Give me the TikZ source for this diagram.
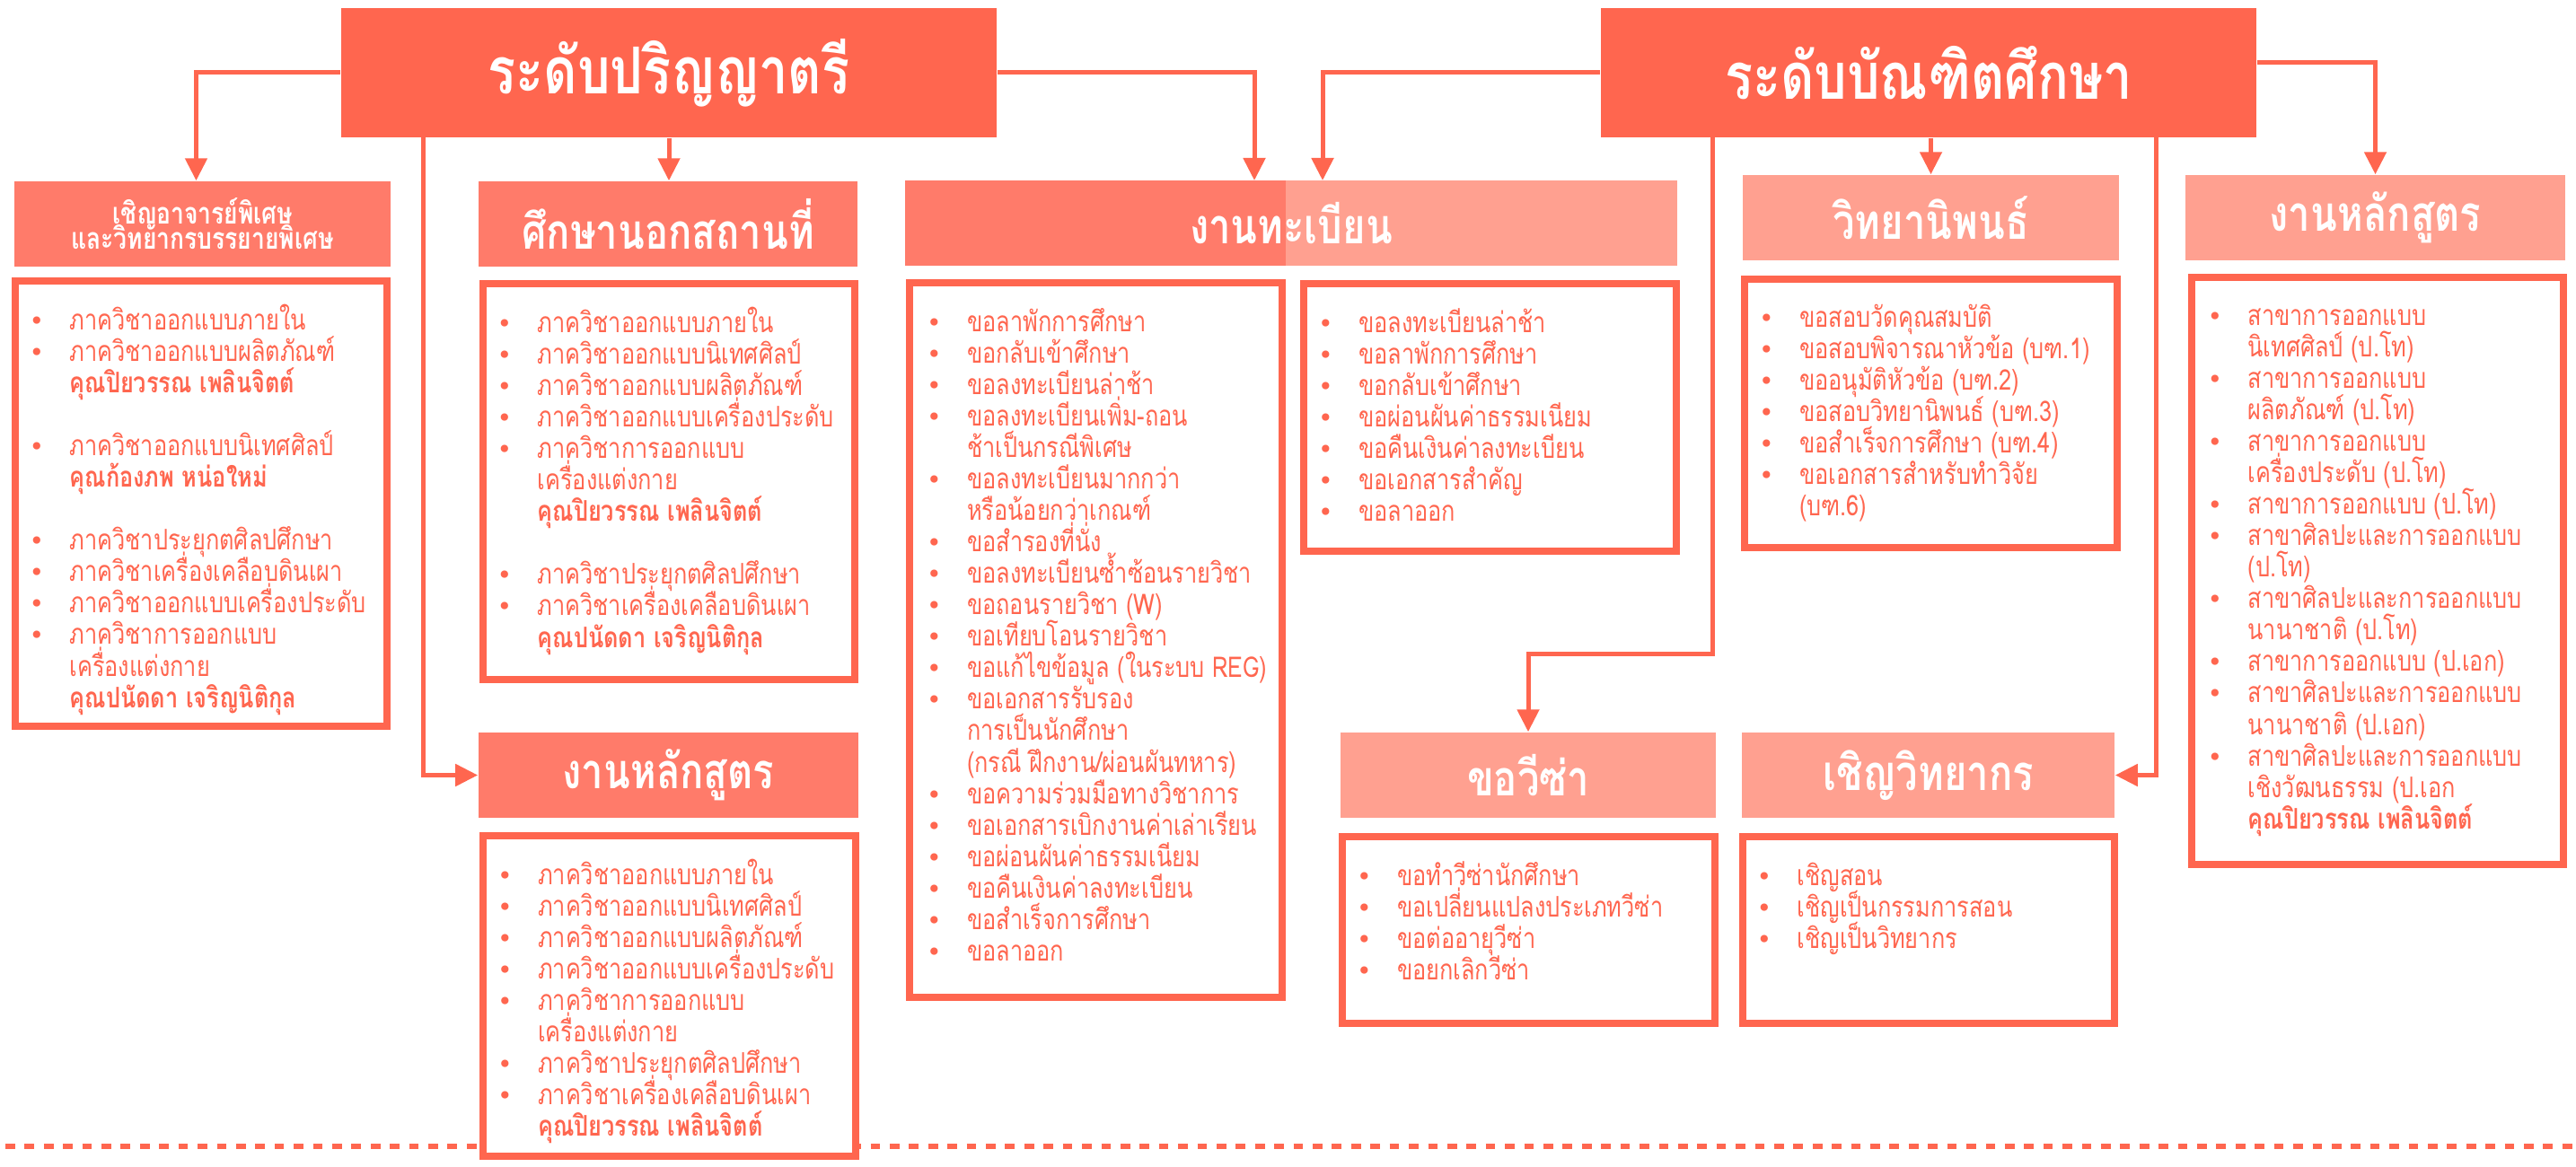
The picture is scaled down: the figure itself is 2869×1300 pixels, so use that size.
\documentclass[tikz,border=0pt]{standalone}
\usepackage{fontspec}
\setmainfont{Loma}[Script=Thai, FakeStretch=0.8]
\newfontfamily\dotfont{DejaVu Sans}
\usetikzlibrary{arrows.meta, calc}
\definecolor{titlecolor}{RGB}{255,102,79}
\definecolor{ugcolor}{RGB}{255,123,106}
\definecolor{grcolor}{RGB}{255,160,144}
\definecolor{linecolor}{RGB}{255,102,79}
\definecolor{textcolor}{RGB}{255,102,79}

\newcommand{\bodyfont}{\fontsize{9}{9.96}\selectfont\lineskiplimit=-20pt\relax}
\newcommand{\smallhead}{\fontsize{9.4}{8}\selectfont\bfseries\lineskiplimit=-20pt\relax}
\newcommand{\itm}{\rule{0pt}{10pt}\makebox[4.5mm][l]{{\dotfont\fontsize{8}{8}\selectfont •}}}
\newcommand{\cont}{\rule{0pt}{10pt}\hspace*{4.5mm}}
\newcommand{\gap}{\rule{0pt}{10pt}}

\begin{document}
\begin{tikzpicture}[
    x=0.01cm, y=-0.01cm,
    level/.style={fill=titlecolor, minimum width=7.3cm, minimum height=1.44cm, inner sep=0pt, text=white, font=\fontsize{20.5}{24}\selectfont\bfseries},
    ughead/.style={fill=ugcolor, minimum width=4.19cm, minimum height=0.95cm, inner sep=0pt, text=white, font=\fontsize{15.5}{17}\selectfont\bfseries},
    grhead/.style={ughead, fill=grcolor},
    panel/.style={draw=linecolor, line width=0.8mm, fill=white, minimum width=4.14cm, inner sep=0pt},
    items/.style={anchor=north west, inner sep=0pt, align=left, text=textcolor, font=\bodyfont},
    link/.style={draw=linecolor, line width=0.5mm, -{Triangle[length=2.5mm, width=2.4mm]}}
]
    \useasboundingbox (0,0) rectangle (2869,1300);

    % dashed rule at the bottom
    \draw[linecolor, line width=0.55mm, dash pattern=on 1.07mm off 1.07mm, dash phase=1.54mm] (0,1277) -- (2869,1277);

    % levels
    \node[level] (tUg) at (745,81) {ระดับปริญญาตรี};
    \node[level] (tGr) at (2148,81) {ระดับบัณฑิตศึกษา};

    % headers
    \node[ughead, font=\smallhead, align=center] (hInvUg) at (225.5,249.5) {เชิญอาจารย์พิเศษ\\และวิทยากรบรรยายพิเศษ};
    \node[ughead, minimum width=4.22cm] (hFieldUg) at (744,249.5) {ศึกษานอกสถานที่};
    \node[grhead, minimum width=8.6cm, path picture={\fill[ugcolor] (path picture bounding box.south west) rectangle ([xshift=4.24cm]path picture bounding box.north west);}] (hReg) at (1438,248.5) {งานทะเบียน};
    \node[grhead] (hThesis) at (2150.5,242.5) {วิทยานิพนธ์};
    \node[grhead, minimum width=4.23cm] (hCurGr) at (2645.5,242.5) {งานหลักสูตร};
    \node[ughead, minimum width=4.23cm] (hCurUg) at (744.5,863.5) {งานหลักสูตร};
    \node[grhead, minimum width=4.18cm] (hVisa) at (1702,863.5) {ขอวีซ่า};
    \node[grhead, minimum width=4.15cm] (hInvite) at (2147.5,863.5) {เชิญวิทยากร};

    % panels
    \node[panel, minimum height=4.96cm] (bInvUg) at (224,561) {};
    \node[panel, minimum height=4.41cm] (bFieldUg) at (745,536.5) {};
    \node[panel, minimum height=3.57cm] (bCurUg) at (745.5,1109.5) {};
    \node[panel, minimum height=7.96cm] (bRegUg) at (1220.5,713) {};
    \node[panel, minimum height=2.98cm] (bRegGr) at (1659.5,465) {};
    \node[panel, minimum height=2.99cm] (bThesis) at (2150.5,460.5) {};
    \node[panel, minimum height=6.54cm] (bCurGr) at (2648,636) {};
    \node[panel, minimum height=2.08cm] (bVisa) at (1702.5,1036) {};
    \node[panel, minimum height=2.08cm] (bInvite) at (2148,1036) {};

    % panel texts
    \node[items] (lInvUg) at ($(bInvUg.north west)+(19,23)$) {%
        \itm ภาควิชาออกแบบภายใน\\
        \itm ภาควิชาออกแบบผลิตภัณฑ์\\
        \cont\textbf{คุณปิยวรรณ เพลินจิตต์}\\
        \gap\\
        \itm ภาควิชาออกแบบนิเทศศิลป์\\
        \cont\textbf{คุณก้องภพ หน่อใหม่}\\
        \gap\\
        \itm ภาควิชาประยุกตศิลปศึกษา\\
        \itm ภาควิชาเครื่องเคลือบดินเผา\\
        \itm ภาควิชาออกแบบเครื่องประดับ\\
        \itm ภาควิชาการออกแบบ\\
        \cont เครื่องแต่งกาย\\
        \cont\textbf{คุณปนัดดา เจริญนิติกุล}};
    \node[items] (lFieldUg) at ($(bFieldUg.north west)+(19,23)$) {%
        \itm ภาควิชาออกแบบภายใน\\
        \itm ภาควิชาออกแบบนิเทศศิลป์\\
        \itm ภาควิชาออกแบบผลิตภัณฑ์\\
        \itm ภาควิชาออกแบบเครื่องประดับ\\
        \itm ภาควิชาการออกแบบ\\
        \cont เครื่องแต่งกาย\\
        \cont\textbf{คุณปิยวรรณ เพลินจิตต์}\\
        \gap\\
        \itm ภาควิชาประยุกตศิลปศึกษา\\
        \itm ภาควิชาเครื่องเคลือบดินเผา\\
        \cont\textbf{คุณปนัดดา เจริญนิติกุล}};
    \node[items] (lCurUg) at ($(bCurUg.north west)+(19,23)$) {%
        \itm ภาควิชาออกแบบภายใน\\
        \itm ภาควิชาออกแบบนิเทศศิลป์\\
        \itm ภาควิชาออกแบบผลิตภัณฑ์\\
        \itm ภาควิชาออกแบบเครื่องประดับ\\
        \itm ภาควิชาการออกแบบ\\
        \cont เครื่องแต่งกาย\\
        \itm ภาควิชาประยุกตศิลปศึกษา\\
        \itm ภาควิชาเครื่องเคลือบดินเผา\\
        \cont\textbf{คุณปิยวรรณ เพลินจิตต์}};
    \node[items] (lRegUg) at ($(bRegUg.north west)+(22,23)$) {%
        \itm ขอลาพักการศึกษา\\
        \itm ขอกลับเข้าศึกษา\\
        \itm ขอลงทะเบียนล่าช้า\\
        \itm ขอลงทะเบียนเพิ่ม-ถอน\\
        \cont ช้าเป็นกรณีพิเศษ\\
        \itm ขอลงทะเบียนมากกว่า\\
        \cont หรือน้อยกว่าเกณฑ์\\
        \itm ขอสำรองที่นั่ง\\
        \itm ขอลงทะเบียนซ้ำซ้อนรายวิชา\\
        \itm ขอถอนรายวิชา (W)\\
        \itm ขอเทียบโอนรายวิชา\\
        \itm ขอแก้ไขข้อมูล (ในระบบ REG)\\
        \itm ขอเอกสารรับรอง\\
        \cont การเป็นนักศึกษา\\
        \cont (กรณี ฝึกงาน/ผ่อนผันทหาร)\\
        \itm ขอความร่วมมือทางวิชาการ\\
        \itm ขอเอกสารเบิกงานค่าเล่าเรียน\\
        \itm ขอผ่อนผันค่าธรรมเนียม\\
        \itm ขอคืนเงินค่าลงทะเบียน\\
        \itm ขอสำเร็จการศึกษา\\
        \itm ขอลาออก};
    \node[items] (lRegGr) at ($(bRegGr.north west)+(19,23)$) {%
        \itm ขอลงทะเบียนล่าช้า\\
        \itm ขอลาพักการศึกษา\\
        \itm ขอกลับเข้าศึกษา\\
        \itm ขอผ่อนผันค่าธรรมเนียม\\
        \itm ขอคืนเงินค่าลงทะเบียน\\
        \itm ขอเอกสารสำคัญ\\
        \itm ขอลาออก};
    \node[items] (lThesis) at ($(bThesis.north west)+(19,22)$) {%
        \itm ขอสอบวัดคุณสมบัติ\\
        \itm ขอสอบพิจารณาหัวข้อ (บฑ.1)\\
        \itm ขออนุมัติหัวข้อ (บฑ.2)\\
        \itm ขอสอบวิทยานิพนธ์ (บฑ.3)\\
        \itm ขอสำเร็จการศึกษา (บฑ.4)\\
        \itm ขอเอกสารสำหรับทำวิจัย\\
        \cont (บฑ.6)};
    \node[items] (lCurGr) at ($(bCurGr.north west)+(21,22)$) {%
        \itm สาขาการออกแบบ\\
        \cont นิเทศศิลป์ (ป.โท)\\
        \itm สาขาการออกแบบ\\
        \cont ผลิตภัณฑ์ (ป.โท)\\
        \itm สาขาการออกแบบ\\
        \cont เครื่องประดับ (ป.โท)\\
        \itm สาขาการออกแบบ (ป.โท)\\
        \itm สาขาศิลปะและการออกแบบ\\
        \cont (ป.โท)\\
        \itm สาขาศิลปะและการออกแบบ\\
        \cont นานาชาติ (ป.โท)\\
        \itm สาขาการออกแบบ (ป.เอก)\\
        \itm สาขาศิลปะและการออกแบบ\\
        \cont นานาชาติ (ป.เอก)\\
        \itm สาขาศิลปะและการออกแบบ\\
        \cont เชิงวัฒนธรรม (ป.เอก\\
        \cont\textbf{คุณปิยวรรณ เพลินจิตต์}};
    \node[items] (lVisa) at ($(bVisa.north west)+(19,23)$) {%
        \itm ขอทำวีซ่านักศึกษา\\
        \itm ขอเปลี่ยนแปลงประเภทวีซ่า\\
        \itm ขอต่ออายุวีซ่า\\
        \itm ขอยกเลิกวีซ่า};
    \node[items] (lInvite) at ($(bInvite.north west)+(19,23)$) {%
        \itm เชิญสอน\\
        \itm เชิญเป็นกรรมการสอน\\
        \itm เชิญเป็นวิทยากร};

    % connectors from ระดับปริญญาตรี
    \coordinate (ugdrop) at (471,153);
    \coordinate (regug) at (1397,201);
    \draw[link] (tUg.west) -| ([xshift=-0.07cm]hInvUg.north);
    \draw[link] (ugdrop) |- (hCurUg.west);
    \draw[link] (tUg.south) -- (tUg.south |- hFieldUg.north);
    \draw[link] (tUg.east) -| (regug);

    % connectors from ระดับบัณฑิตศึกษา
    \coordinate (reggr) at (1473,201);
    \coordinate (visadrop) at (1907,153);
    \coordinate (visaturn) at (1907,728);
    \coordinate (invdrop) at (2401,153);
    \draw[link] (tGr.west) -| (reggr);
    \draw[link] (visadrop) -- (visaturn) -| (hVisa.north);
    \draw[link] (tGr.south -| hThesis.north) -- (hThesis.north);
    \draw[link] (invdrop) |- (hInvite.east);
    \draw[link] ($(tGr.east)+(0,-11)$) -| (hCurGr.north);
\end{tikzpicture}
\end{document}
